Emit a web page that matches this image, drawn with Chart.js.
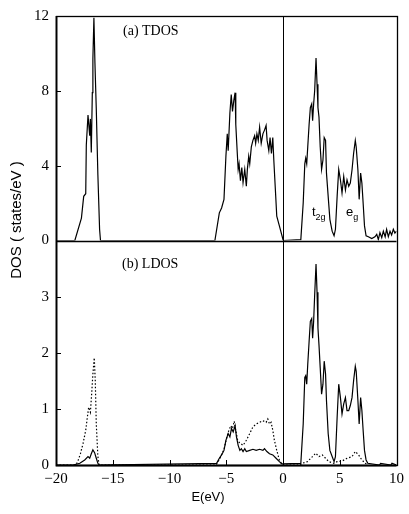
<!DOCTYPE html>
<html>
<head>
<meta charset="utf-8">
<script src="https://cdn.jsdelivr.net/npm/chart.js@4.4.1/dist/chart.umd.min.js"></script>
<style>
  body { margin: 0; background: #fff; }
  #wrap { width: 409px; height: 514px; }
</style>
</head>
<body>
<div id="wrap"><canvas id="dos" width="409" height="514"></canvas></div>
<script>
/* (a) total DOS, states/eV */
const tdosE = [-20, -18.34, -17.76, -17.56, -17.38, -17.33, -17.18, -17.03, -16.97, -16.89, -16.8, -16.75, -16.66, -16.57, -16.45, -16.31, -16.16, -16.08,
  -6.0, -5.61, -5.41, -5.2, -5.03, -4.91, -4.83, -4.68, -4.56, -4.45, -4.33, -4.22, -4.16, -4.04, -3.95, -3.87, -3.75, -3.63, -3.52, -3.37,
  -3.23, -3.14, -3.02, -2.93, -2.79, -2.65, -2.5, -2.41, -2.3, -2.18, -2.06, -1.92, -1.77, -1.63, -1.49, -1.4, -1.25, -1.14, -1.02, -0.9,
  -0.81, -0.67, -0.55, -0.32, 0.02,
  1.57, 1.78, 1.92, 2.0, 2.09, 2.18, 2.3, 2.41, 2.53, 2.61, 2.7, 2.79, 2.91, 3.0, 3.08, 3.17, 3.28, 3.4, 3.52, 3.63, 3.75, 3.83, 3.98,
  4.13, 4.33, 4.5, 4.62, 4.77, 4.91, 5.06, 5.2, 5.35, 5.5, 5.64, 5.79, 5.93, 6.08, 6.22, 6.37, 6.45, 6.6, 6.71, 6.84, 6.95, 7.06, 7.18,
  7.32, 7.52, 7.82, 8.1, 8.26, 8.4, 8.54, 8.7, 8.84, 9.0, 9.13, 9.28, 9.43, 9.57, 9.72, 9.86, 10];
const tdosV = [0, 0, 1.2, 2.36, 2.5, 5.1, 6.7, 5.6, 6.5, 4.7, 7.9, 9.7, 11.9, 9.5, 7.0, 3.5, 0.6, 0,
  0, 1.48, 1.74, 2.2, 4.5, 5.7, 4.8, 6.8, 7.8, 6.9, 7.5, 7.9, 6.2, 4.8, 3.8, 4.1, 3.2, 3.9, 3.1, 3.8,
  2.9, 3.8, 4.5, 4.1, 5.0, 5.35, 5.6, 5.2, 5.7, 5.35, 6.06, 5.2, 5.7, 5.9, 6.15, 5.35, 4.8, 5.5, 4.65, 5.5,
  4.3, 2.7, 1.3, 0.78, 0,
  0.05, 2.0, 4.1, 4.4, 4.1, 5.0, 6.2, 7.1, 7.3, 6.4, 7.3, 8.0, 9.75, 8.35, 7.1, 6.6, 5.0, 3.8, 4.3, 5.5, 5.35, 3.6, 2.36,
  1.13, 0.5, 0.25, 0.6, 2.36, 3.8, 3.24, 2.54, 3.42, 2.7, 3.24, 2.9, 3.07, 3.77, 4.65, 5.35, 5.0, 3.77, 2.2, 3.6, 3.07, 2.0, 0.78,
  0.25, 0.2, 0.1, 0.2, 0.33, 0.05, 0.42, 0.15, 0.5, 0.2, 0.6, 0.2, 0.5, 0.3, 0.6, 0.4, 0.5];

/* (b) local DOS, solid curve */
const ldosSolidE = [-20, -18.49, -17.9, -17.47, -17.18, -17.03, -16.89, -16.75, -16.6, -16.45, -16.31, -16.2,
  -5.85, -5.61, -5.41, -5.2, -5.03, -4.83, -4.68, -4.54, -4.39, -4.22, -4.1, -3.95, -3.8, -3.67, -3.52, -3.37, -3.23,
  -2.93, -2.65, -2.36, -2.06, -1.77, -1.63, -1.42, -1.19, -0.9, -0.61, -0.32, -0.09,
  1.57, 1.78, 1.92, 2.0, 2.09, 2.18, 2.3, 2.41, 2.53, 2.61, 2.7, 2.79, 2.91, 3.0, 3.08, 3.17, 3.28, 3.4, 3.52, 3.63, 3.75, 3.83, 3.98,
  4.13, 4.33, 4.5, 4.62, 4.77, 4.91, 5.06, 5.2, 5.35, 5.5, 5.64, 5.79, 5.93, 6.08, 6.22, 6.37, 6.45, 6.6, 6.71, 6.84, 6.95, 7.06, 7.18,
  7.32, 7.47, 8.5, 8.6, 9.5, 9.6, 10];
const ldosSolidV = [0, 0, 0.03, 0.09, 0.15, 0.12, 0.2, 0.27, 0.22, 0.12, 0.03, 0,
  0.03, 0.12, 0.18, 0.26, 0.44, 0.56, 0.5, 0.65, 0.59, 0.7, 0.5, 0.35, 0.26, 0.29, 0.24, 0.29, 0.24,
  0.26, 0.28, 0.26, 0.28, 0.26, 0.29, 0.24, 0.2, 0.18, 0.12, 0.06, 0.02,
  0.03, 0.73, 1.56, 1.59, 1.44, 1.79, 2.2, 2.56, 2.61, 2.26, 2.56, 3.03, 3.58, 3.08, 2.44, 2.14, 1.73, 1.26, 1.44, 1.85, 1.62, 1.15, 0.56,
  0.26, 0.15, 0.06, 0.15, 0.85, 1.44, 1.2, 0.91, 1.09, 1.2, 0.97, 0.97, 1.06, 1.2, 1.5, 1.76, 1.67, 1.15, 0.73, 1.2, 0.97, 0.62, 0.26,
  0.09, 0.03, 0, 0.03, 0, 0.03, 0];

/* (b) local DOS, dotted curve */
const ldosDotE = [-20, -18.3, -18.1, -17.85, -17.62, -17.38, -17.24, -17.12, -16.97, -16.86, -16.75, -16.63, -16.54, -16.45, -16.31, -16.2,
  -5.9, -5.6, -5.2, -5.0, -4.8, -4.6, -4.45, -4.3, -4.15, -4.0, -3.85, -3.52, -3.23, -2.93, -2.65, -2.36, -2.06, -1.77, -1.49, -1.34,
  -1.19, -1.05, -0.9, -0.76, -0.55, -0.32, -0.15, 0,
  1.5, 1.7, 2.15, 2.6, 2.88, 3.17, 3.46, 3.75, 4.04, 4.48, 4.77, 5.2, 5.64, 6.08, 6.37, 6.66, 6.95, 7.24, 7.5];
const ldosDotV = [0, 0, 0.05, 0.2, 0.38, 0.62, 0.85, 1.03, 0.94, 1.26, 1.62, 1.91, 1.5, 0.73, 0.15, 0,
  0, 0.1, 0.28, 0.45, 0.6, 0.7, 0.65, 0.78, 0.6, 0.45, 0.4, 0.35, 0.44, 0.56, 0.68, 0.73, 0.76, 0.79, 0.76, 0.82,
  0.73, 0.76, 0.62, 0.44, 0.26, 0.09, 0.03, 0,
  0, 0.03, 0.06, 0.15, 0.21, 0.15, 0.18, 0.12, 0.06, 0.03, 0.06, 0.07, 0.12, 0.15, 0.24, 0.18, 0.09, 0.03, 0];

const xTicks = [-20, -15, -10, -5, 0, 5, 10];
const topTicks = [0, 4, 8, 12];
const bottomTicks = [0, 1, 2, 3];

function pairs(xs, ys) {
  return xs.map((e, i) => ({ x: e, y: ys[i] }));
}
const minus = (v) => (v < 0 ? "\u2212" + Math.abs(v) : String(v));

// frame, E = 0 line, inward ticks and the labels inside the panels
const decor = {
  id: "decor",
  afterDraw(chart) {
    const { ctx, chartArea: a, scales } = chart;
    const x = scales.x, y1 = scales.y1, y2 = scales.y2;
    const r = (v) => Math.round(v) + 0.5;
    ctx.save();
    ctx.strokeStyle = "#000";
    ctx.lineWidth = 1.3;
    ctx.strokeRect(r(a.left), r(a.top), Math.round(a.right - a.left), Math.round(a.bottom - a.top));
    ctx.beginPath();
    ctx.moveTo(a.left, r(y1.bottom));
    ctx.lineTo(a.right, r(y1.bottom));
    ctx.stroke();
    // heavier left spine and bottom axis
    ctx.lineWidth = 1.8;
    ctx.beginPath();
    ctx.moveTo(r(a.left), a.top);
    ctx.lineTo(r(a.left), r(a.bottom));
    ctx.lineTo(a.right, r(a.bottom));
    ctx.stroke();

    ctx.lineWidth = 1;
    const x0 = r(x.getPixelForValue(0));
    ctx.beginPath();
    ctx.moveTo(x0, a.top);
    ctx.lineTo(x0, a.bottom);
    ctx.stroke();

    ctx.beginPath();
    xTicks.forEach((t) => {
      const px = r(x.getPixelForValue(t));
      ctx.moveTo(px, a.bottom);
      ctx.lineTo(px, a.bottom - 5);
    });
    topTicks.forEach((t) => {
      const py = r(y1.getPixelForValue(t));
      ctx.moveTo(a.left, py);
      ctx.lineTo(a.left + 5, py);
    });
    bottomTicks.forEach((t) => {
      const py = r(y2.getPixelForValue(t));
      ctx.moveTo(a.left, py);
      ctx.lineTo(a.left + 5, py);
    });
    ctx.stroke();

    ctx.fillStyle = "#000";
    ctx.textAlign = "left";
    ctx.textBaseline = "alphabetic";
    ctx.font = '14px "Liberation Serif"';
    ctx.fillText("(a) TDOS", 123, 35);
    ctx.fillText("(b) LDOS", 122, 268);

    ctx.font = '13px "Liberation Sans"';
    ctx.fillText("t", 312, 216);
    let w = ctx.measureText("t").width;
    ctx.font = '9px "Liberation Sans"';
    ctx.fillText("2g", 312 + w, 220);
    ctx.font = '13px "Liberation Sans"';
    ctx.fillText("e", 346, 216);
    w = ctx.measureText("e").width;
    ctx.font = '9px "Liberation Sans"';
    ctx.fillText("g", 346 + w, 220);

    ctx.textAlign = "center";
    ctx.textBaseline = "middle";
    ctx.font = '13px "Liberation Sans"';
    ctx.fillText("E(eV)", 208, 497);

    ctx.translate(17, 220);
    ctx.rotate(-Math.PI / 2);
    ctx.font = '15px "Liberation Sans"';
    ctx.fillText("DOS ( states/eV )", 0, 0);
    ctx.restore();
  },
};

Chart.defaults.font.family = '"Liberation Serif"';
Chart.defaults.color = "#000";

const yCommon = {
  type: "linear",
  position: "left",
  stack: "dos",
  stackWeight: 1,
  grid: { display: false, drawTicks: false },
  border: { display: false },
  afterFit: (s) => { s.width = 56; },
};

new Chart(document.getElementById("dos"), {
  type: "line",
  data: {
    datasets: [
      { label: "TDOS", data: pairs(tdosE, tdosV), yAxisID: "y1", borderColor: "#000", borderWidth: 1.2, pointRadius: 0, fill: false, tension: 0 },
      { label: "LDOS", data: pairs(ldosSolidE, ldosSolidV), yAxisID: "y2", borderColor: "#000", borderWidth: 1.2, pointRadius: 0, fill: false, tension: 0 },
      { label: "LDOS dotted", data: pairs(ldosDotE, ldosDotV), yAxisID: "y2", borderColor: "#000", borderWidth: 1.2, borderDash: [1.5, 2], pointRadius: 0, fill: false, tension: 0 },
    ],
  },
  options: {
    responsive: false,
    animation: false,
    layout: { padding: { top: 11, right: 9, left: 0, bottom: 0 } },
    plugins: { legend: { display: false }, tooltip: { enabled: false } },
    scales: {
      x: {
        type: "linear",
        min: -20,
        max: 10,
        afterBuildTicks: (s) => { s.ticks = xTicks.map((v) => ({ value: v })); },
        ticks: { padding: 5, font: { size: 15 }, callback: minus },
        grid: { display: false, drawTicks: false },
        border: { display: false },
        afterFit: (s) => { s.height = 49; },
      },
      y1: Object.assign({}, yCommon, {
        weight: 2,
        min: 0,
        max: 12,
        afterBuildTicks: (s) => { s.ticks = topTicks.map((v) => ({ value: v })); },
        ticks: { padding: 7, font: { size: 15 } },
      }),
      y2: Object.assign({}, yCommon, {
        weight: 1,
        min: 0,
        max: 4,
        afterBuildTicks: (s) => { s.ticks = bottomTicks.map((v) => ({ value: v })); },
        ticks: { padding: 7, font: { size: 15 } },
      }),
    },
  },
  plugins: [decor],
});
</script>
</body>
</html>
